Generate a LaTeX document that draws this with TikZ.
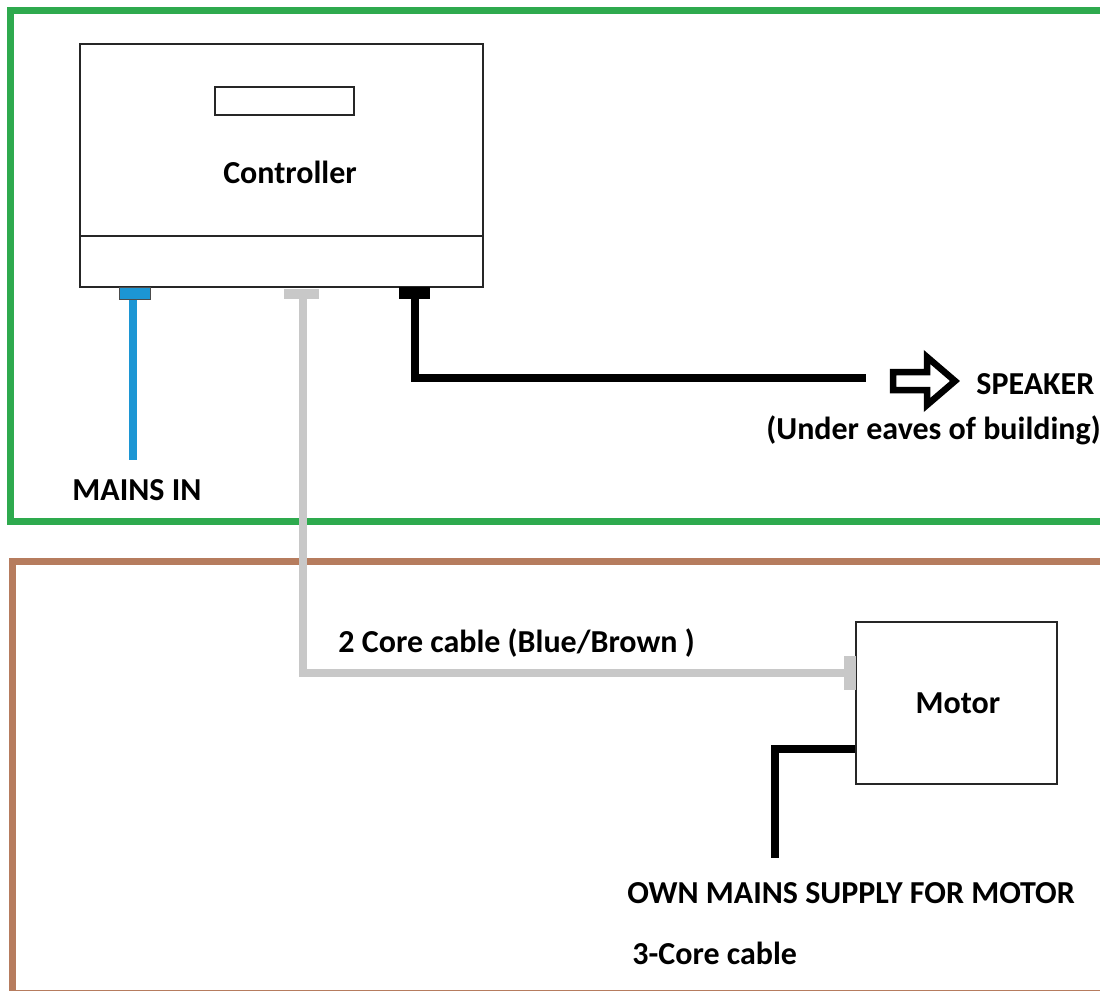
\documentclass[tikz,border=0pt]{standalone}
\usepackage{fontspec}
\setmainfont{Carlito}
\usepackage{tikz}
\usetikzlibrary{positioning,calc}
\definecolor{framegreen}{RGB}{46,170,78}
\definecolor{framebrown}{RGB}{182,124,94}
\definecolor{cableblue}{RGB}{28,150,212}
\definecolor{cablegray}{RGB}{200,200,200}

\tikzset{
  unit/.style={draw=black!85, line width=0.75pt, inner sep=0pt},
  port/.style={inner sep=0pt, minimum width=#1},
  cable/.style={line width=4pt, line cap=butt, line join=miter},
  lbl/.style={font=\fontsize{16}{18}\selectfont\bfseries, inner sep=0pt}
}

\begin{document}
\begin{tikzpicture}[x=0.5pt, y=-0.5pt]
  \useasboundingbox (0,0) rectangle (1100,991);
  \clip (0,0) rectangle (1100,991);
  \fill[white] (0,0) rectangle (1100,991);

  % Frames
  \draw[framegreen, line width=3.5pt] (10,10) rectangle (1120,521);
  \draw[framebrown, line width=3.5pt] (12,561) rectangle (1120,993);

  % Controller
  \node[unit, minimum width=201.5pt, minimum height=121.5pt] (ctrl) at (281.5,165.5) {};
  \draw[black!85, line width=0.75pt] (80,236) -- (483,236);
  \node[unit, minimum width=69.5pt, minimum height=14pt] (display) at (284.5,101) {};
  \node[lbl] (ctrllabel) at (290,172) {Controller};

  % Ports
  \node[port=15.5pt, minimum height=6pt, fill=cableblue, draw=black!70, line width=0.5pt] (pblue) at (134.5,293) {};
  \node[port=17.5pt, minimum height=5pt, fill=cablegray] (pgray) at (301.5,294) {};
  \node[port=15.5pt, minimum height=6pt, fill=black] (pblack) at (414.5,293) {};

  % Motor
  \node[unit, minimum width=100.5pt, minimum height=81pt] (motor) at (956.5,703) {};
  \node[lbl] (motorlabel) at (958,703) {Motor};
  \node[port=6pt, minimum height=17pt, fill=cablegray] (mgray) at (850,673) {};

  % Cables
  \coordinate (mainsend) at (133,460);
  \coordinate (spkend) at (866,378);
  \coordinate (supplyend) at (775,858);
  \draw[cable, cableblue] (pblue.south -| mainsend) -- (mainsend);
  \draw[cable, cablegray] (pgray.south -| 303,0) |- (mgray.west);
  \draw[cable, black] (pblack.south) |- (spkend);
  \draw[cable, black] (motor.west |- 0,749) -| (supplyend);

  % Speaker arrow
  \coordinate (spk) at (893,381);
  \draw[line width=3.25pt, line join=miter]
    (spk) ++(0,-9) -- ++(34,0) -- ++(0,-15) -- ++(28,24) -- ++(-28,24)
    -- ++(0,-15) -- ++(-34,0) -- cycle;

  % Labels
  \node[lbl, anchor=west] (mains) at (72,490) {MAINS IN};
  \node[lbl, anchor=west] (speaker) at (976,384) {SPEAKER};
  \node[lbl, anchor=west] (eaves) at (766,430) {(Under eaves of building)};
  \node[lbl, anchor=west] (twocore) at (338,643) {2 Core cable (Blue/Brown )};
  \node[lbl, anchor=west] (supply) at (627,893) {OWN MAINS SUPPLY FOR MOTOR};
  \node[lbl, anchor=west] (threecore) at (632,953) {3-Core cable};
\end{tikzpicture}
\end{document}
